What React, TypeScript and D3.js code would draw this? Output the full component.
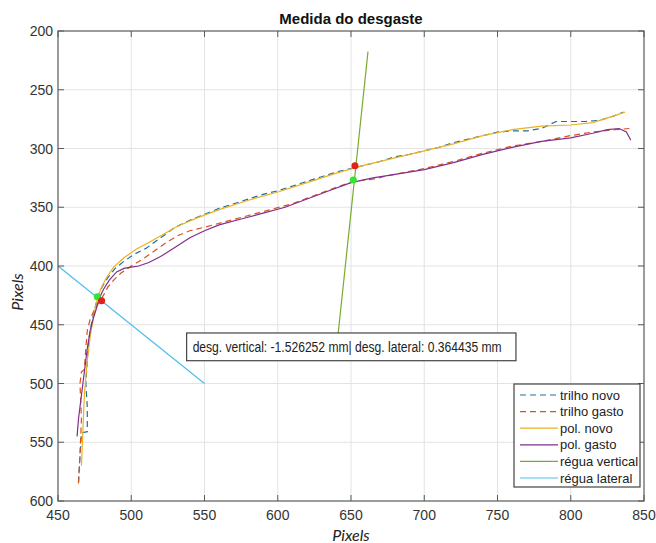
import React, { useEffect, useRef } from 'react';
import * as d3 from 'd3';

const xTicks = [450, 500, 550, 600, 650, 700, 750, 800, 850];
const yTicks = [200, 250, 300, 350, 400, 450, 500, 550, 600];

// [x, y] in pixel units
const trilhoNovo: [number, number][] = [
    [464, 584], [465, 562], [466, 542], [470, 541], [470, 520], [469, 500], [470, 480], [471, 462],
    [473, 448], [475, 437], [477, 427], [480, 418], [484, 410], [489, 402], [495, 396], [502, 390],
    [510, 385], [520, 376], [530, 367], [540, 361], [550, 356], [560, 351], [570, 347], [580, 343],
    [590, 339], [600, 336], [610, 332], [620, 328], [630, 324], [640, 320], [650, 317], [660, 314],
    [670, 311], [680, 307], [690, 305], [700, 302], [710, 299], [720, 295], [730, 292], [740, 289],
    [750, 286], [760, 285], [770, 285], [780, 283], [790, 277], [800, 277], [810, 277], [820, 276],
    [830, 272], [836, 269],
];
const trilhoGasto: [number, number][] = [
    [464, 585], [465, 560], [466, 530], [465, 500], [466, 490], [468, 488], [469, 470], [470, 455],
    [472, 445], [475, 437], [478, 431], [481, 425], [484, 418], [488, 412], [493, 406], [500, 400],
    [508, 394], [516, 387], [524, 380], [532, 374], [540, 370], [550, 367], [565, 362], [580, 357],
    [595, 352], [610, 347], [625, 340], [640, 333], [652, 328], [665, 326], [680, 322], [700, 317],
    [720, 311], [740, 304], [760, 298], [780, 294], [800, 289], [815, 286], [830, 284], [840, 283],
];
const polNovo: [number, number][] = [
    [466, 570], [467, 540], [468, 510], [470, 480], [472, 460], [474, 445], [476, 432], [479, 420],
    [483, 410], [488, 401], [495, 393], [503, 386], [512, 380], [522, 373], [532, 366], [545, 359],
    [560, 352], [580, 344], [600, 337], [620, 329], [640, 321], [660, 314], [680, 308], [700, 302],
    [720, 296], [740, 289], [760, 284], [780, 281], [800, 280], [815, 278], [830, 272], [837, 269],
];
const polGasto: [number, number][] = [
    [463, 545], [464, 530], [466, 510], [468, 490], [470, 470], [472, 455], [474, 445], [476, 437],
    [478, 428], [481, 420], [485, 412], [490, 405], [495, 402], [500, 401], [505, 400], [512, 397],
    [520, 392], [530, 384], [540, 376], [550, 370], [560, 365], [575, 360], [590, 355], [605, 350],
    [620, 343], [635, 336], [650, 329], [665, 325], [680, 322], [700, 318], [720, 312], [740, 305],
    [760, 299], [780, 294], [800, 291], [815, 287], [825, 284], [833, 283], [838, 286], [841, 293],
];
const reguaVertical: [number, number][] = [[661.6, 217.6], [639.5, 478]];
const reguaLateral: [number, number][] = [[450, 400], [550, 500]];
const redPoints: [number, number][] = [[652.7, 314.6], [479.8, 429.5]];
const greenPoints: [number, number][] = [[651.6, 326.8], [476.8, 426.1]];

const series = [
    { name: 'trilho novo', data: trilhoNovo, color: '#1f6f9a', dash: '6,4' },
    { name: 'trilho gasto', data: trilhoGasto, color: '#d95319', dash: '6,4' },
    { name: 'pol. novo', data: polNovo, color: '#edb120', dash: null },
    { name: 'pol. gasto', data: polGasto, color: '#7e2f8e', dash: null },
    { name: 'régua vertical', data: reguaVertical, color: '#77ac30', dash: null },
    { name: 'régua lateral', data: reguaLateral, color: '#4dbeee', dash: null },
];

const infoText = 'desg. vertical: -1.526252 mm| desg. lateral: 0.364435 mm';
const font = '"Liberation Sans Narrow", "Arial Narrow", "Liberation Sans", Arial, sans-serif';

const App = () => {
    const svgRef = useRef<SVGSVGElement>(null);

    useEffect(() => {
        const svg = d3.select(svgRef.current);
        svg.selectAll('*').remove();

        const left = 58, right = 644, top = 31, bottom = 501;
        const x = d3.scaleLinear().domain([450, 850]).range([left, right]);
        const y = d3.scaleLinear().domain([200, 600]).range([top, bottom]);

        svg.append('rect').attr('width', 656).attr('height', 543).attr('fill', '#fff');

        // grid
        const grid = svg.append('g').attr('stroke', '#e3e3e3').attr('stroke-width', 1);
        xTicks.slice(1, -1).forEach(t => {
            grid.append('line').attr('x1', x(t)).attr('x2', x(t)).attr('y1', top).attr('y2', bottom);
        });
        yTicks.slice(1, -1).forEach(t => {
            grid.append('line').attr('y1', y(t)).attr('y2', y(t)).attr('x1', left).attr('x2', right);
        });

        const line = d3.line<[number, number]>().x(d => x(d[0])).y(d => y(d[1]));

        const plot = svg.append('g');
        series.forEach(s => {
            plot.append('path')
                .datum(s.data)
                .attr('d', line)
                .attr('fill', 'none')
                .attr('stroke', s.color)
                .attr('stroke-width', 1.2)
                .attr('stroke-dasharray', s.dash);
        });

        plot.selectAll('circle.green').data(greenPoints).enter().append('circle')
            .attr('cx', d => x(d[0])).attr('cy', d => y(d[1])).attr('r', 3.5).attr('fill', '#2ee82e');
        plot.selectAll('circle.red').data(redPoints).enter().append('circle')
            .attr('cx', d => x(d[0])).attr('cy', d => y(d[1])).attr('r', 3.5).attr('fill', '#e0201a');

        // axes box + inward ticks
        const axisColor = '#5a5a5a';
        svg.append('rect')
            .attr('x', left).attr('y', top).attr('width', right - left).attr('height', bottom - top)
            .attr('fill', 'none').attr('stroke', axisColor).attr('stroke-width', 1.2);
        const ticks = svg.append('g').attr('stroke', axisColor).attr('stroke-width', 1);
        xTicks.forEach(t => {
            ticks.append('line').attr('x1', x(t)).attr('x2', x(t)).attr('y1', bottom).attr('y2', bottom - 6);
            ticks.append('line').attr('x1', x(t)).attr('x2', x(t)).attr('y1', top).attr('y2', top + 6);
        });
        yTicks.forEach(t => {
            ticks.append('line').attr('y1', y(t)).attr('y2', y(t)).attr('x1', left).attr('x2', left + 6);
            ticks.append('line').attr('y1', y(t)).attr('y2', y(t)).attr('x1', right).attr('x2', right - 6);
        });

        const labels = svg.append('g').attr('font-family', font).attr('font-size', 14).attr('fill', '#333');
        xTicks.forEach(t => {
            labels.append('text').attr('x', x(t)).attr('y', 520).attr('text-anchor', 'middle').text(t);
        });
        yTicks.forEach(t => {
            labels.append('text').attr('x', left - 5).attr('y', y(t) + 5).attr('text-anchor', 'end').text(t);
        });

        svg.append('text')
            .attr('x', (left + right) / 2).attr('y', 24)
            .attr('text-anchor', 'middle')
            .attr('font-family', font).attr('font-weight', 'bold').attr('font-size', 15)
            .attr('fill', '#111')
            .text('Medida do desgaste');

        svg.append('text')
            .attr('x', (left + right) / 2).attr('y', 541)
            .attr('text-anchor', 'middle')
            .attr('font-family', 'Lato, "Open Sans", sans-serif').attr('font-style', 'italic').attr('font-size', 16)
            .attr('fill', '#222')
            .text('Pixels');

        svg.append('text')
            .attr('transform', 'translate(23,292) rotate(-90)')
            .attr('text-anchor', 'middle')
            .attr('font-family', 'Lato, "Open Sans", sans-serif').attr('font-style', 'italic').attr('font-size', 16)
            .attr('fill', '#222')
            .text('Pixels');

        // text box
        const tb = svg.append('g');
        tb.append('rect')
            .attr('x', x(537.8)).attr('y', y(457)).attr('width', x(762.6) - x(537.8)).attr('height', y(480.6) - y(457))
            .attr('fill', '#fff').attr('stroke', '#444').attr('stroke-width', 1.2);
        tb.append('text')
            .attr('x', x(537.8) + 6).attr('y', y(457) + 19)
            .attr('font-family', font).attr('font-size', 14).attr('fill', '#222')
            .attr('textLength', 309).attr('lengthAdjust', 'spacingAndGlyphs')
            .text(infoText);

        // legend
        const lg = svg.append('g');
        lg.append('rect')
            .attr('x', 514).attr('y', 384).attr('width', 126).attr('height', 103)
            .attr('fill', '#fff').attr('stroke', '#444').attr('stroke-width', 1.2);
        series.forEach((s, i) => {
            const cy = 395 + i * 16.6;
            lg.append('line')
                .attr('x1', 520).attr('x2', 558).attr('y1', cy).attr('y2', cy)
                .attr('stroke', s.color).attr('stroke-width', 1.2)
                .attr('stroke-dasharray', s.dash);
            lg.append('text')
                .attr('x', 560).attr('y', cy + 4.5)
                .attr('font-family', font).attr('font-size', 13).attr('fill', '#222')
                .text(s.name);
        });
    }, []);

    return (
        <svg ref={svgRef} width={656} height={543} style={{ position: 'absolute', left: 0, top: 0 }} />
    );
};

export default App;
